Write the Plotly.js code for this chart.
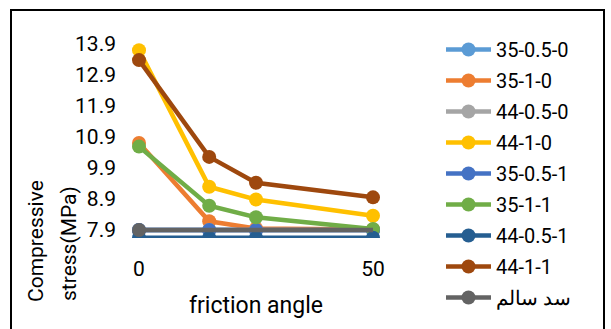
<!DOCTYPE html>
<html>
<head>
<meta charset="utf-8">
<script src="https://cdn.plot.ly/plotly-3.0.1.min.js"></script>
<style>
  html, body { margin: 0; padding: 0; background: #fff; overflow: hidden; }
  #chart { position: absolute; left: 0; top: 0; width: 611px; height: 329px; }
  #frame { position: absolute; left: 10px; top: 9px; width: 591px; height: 340px;
           border: 2px solid #000; pointer-events: none; }
</style>
</head>
<body>
<div id="chart"></div>
<div id="frame"></div>
<script>
// friction angle (degrees)
const frictionAngle = [0, 15, 25, 50];

// compressive stress (MPa) for each case
const s35_05_0 = [7.9, 7.9, 7.9, 7.9];
const s35_1_0  = [10.7, 8.18, 7.95, 7.92];
const s44_05_0 = [7.9, 7.9, 7.9, 7.9];
const s44_1_0  = [13.68, 9.29, 8.88, 8.36];
const s35_05_1 = [7.9, 7.9, 7.9, 7.9];
const s35_1_1  = [10.58, 8.68, 8.31, 7.93];
const s44_05_1 = [7.65, 7.65, 7.65, 7.65];
const s44_1_1  = [13.36, 10.25, 9.42, 8.95];

// healthy dam reference line
const healthyX = [0, 50];
const healthyY = [7.9, 7.9];

const seriesNames = ['35-0.5-0', '35-1-0', '44-0.5-0', '44-1-0', '35-0.5-1',
                     '35-1-1', '44-0.5-1', '44-1-1', 'سد سالم'];
const seriesColors = ['#5B9BD5', '#ED7D31', '#A5A5A5', '#FFC000', '#4472C4',
                      '#70AD47', '#255E91', '#9E480E', '#636363'];
const seriesValues = [s35_05_0, s35_1_0, s44_05_0, s44_1_0, s35_05_1,
                      s35_1_1, s44_05_1, s44_1_1];

const FONT = 'Roboto, "Open Sans", sans-serif';

const traces = seriesValues.map((vals, i) => ({
  type: 'scatter',
  mode: 'lines+markers',
  name: seriesNames[i],
  legendgroup: 'g' + i,
  x: frictionAngle,
  y: vals,
  line: { color: seriesColors[i], width: 4.5 },
  marker: { color: seriesColors[i], size: 14 }
}));

traces.push({
  type: 'scatter',
  mode: 'lines+markers',
  name: seriesNames[8],
  legendgroup: 'g8',
  x: healthyX,
  y: healthyY,
  line: { color: seriesColors[8], width: 4.5 },
  marker: { color: [seriesColors[8], 'rgba(0,0,0,0)'], size: 14 }
});

const layout = {
  width: 611,
  height: 329,
  margin: { l: 131, r: 230, t: 35, b: 91 },
  paper_bgcolor: '#fff',
  plot_bgcolor: '#fff',
  font: { family: FONT, color: '#000' },
  showlegend: true,
  legend: {
    xref: 'container', yref: 'container',
    x: 441 / 611, y: 1 - 30 / 329,
    xanchor: 'left', yanchor: 'top',
    font: { family: FONT, size: 20, color: '#000' },
    itemwidth: 45,
    tracegroupgap: 2,
    maxheight: 1,
    bgcolor: 'rgba(0,0,0,0)'
  },
  xaxis: {
    range: [-1.709, 51.709],
    tickvals: [0, 50],
    ticks: '',
    showgrid: false,
    zeroline: false,
    showline: false,
    ticklabelstandoff: 16,
    tickfont: { family: FONT, size: 21, color: '#000' }
  },
  yaxis: {
    range: [7.643, 14.167],
    tick0: 7.9,
    dtick: 1,
    tickformat: '.1f',
    ticks: '',
    showgrid: false,
    zeroline: false,
    showline: false,
    ticklabelstandoff: 14,
    tickfont: { family: FONT, size: 21, color: '#000' }
  },
  annotations: [
    {
      text: 'friction angle', xref: 'paper', yref: 'paper',
      x: 0.5, y: (238 - 305) / 203, xanchor: 'center', yanchor: 'middle',
      showarrow: false, font: { family: FONT, size: 23, color: '#000' }
    },
    {
      text: 'Compressive', xref: 'paper', yref: 'paper', textangle: -90,
      x: (36 - 131) / 250, y: (238 - 241) / 203, xanchor: 'center', yanchor: 'middle',
      showarrow: false, font: { family: FONT, size: 21, color: '#000' }
    },
    {
      text: 'stress(MPa)', xref: 'paper', yref: 'paper', textangle: -90,
      x: (69 - 131) / 250, y: (238 - 244) / 203, xanchor: 'center', yanchor: 'middle',
      showarrow: false, font: { family: FONT, size: 21, color: '#000' }
    }
  ]
};

Plotly.newPlot('chart', traces, layout, { displayModeBar: false, staticPlot: true });
</script>
</body>
</html>
